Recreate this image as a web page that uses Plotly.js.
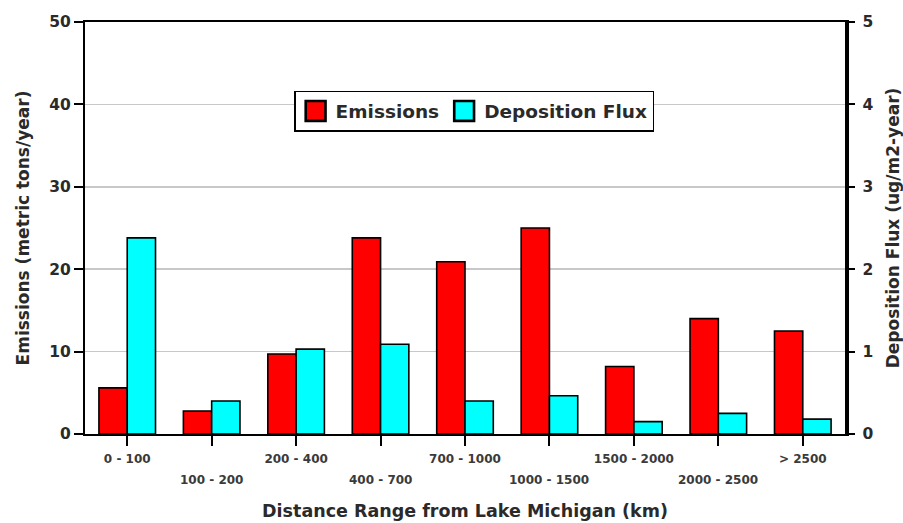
<!DOCTYPE html>
<html>
<head>
<meta charset="utf-8">
<script src="https://cdn.plot.ly/plotly-3.0.1.min.js"></script>
<style>
  html, body { margin: 0; padding: 0; background: #fff; }
  #chart { width: 903px; height: 523px; }
</style>
</head>
<body>
<div id="chart"></div>
<script>
// Distance ranges from Lake Michigan (km)
const ranges = ['0 - 100', '100 - 200', '200 - 400', '400 - 700', '700 - 1000',
                '1000 - 1500', '1500 - 2000', '2000 - 2500', '> 2500'];
// Emissions, metric tons/year
const emissions = [5.6, 2.8, 9.7, 23.8, 20.9, 25.0, 8.2, 14.0, 12.5];
// Deposition flux, ug/m2-year
const deposition = [2.38, 0.40, 1.03, 1.09, 0.40, 0.465, 0.15, 0.25, 0.18];
// Left and right axis tick values
const leftTicks = [0, 10, 20, 30, 40, 50];
const rightTicks = [0, 1, 2, 3, 4, 5];

const idx = ranges.map((_, i) => i);
// Even-numbered ranges label the ticks directly; the others sit on a lower row
const upperText = ranges.map((r, i) => (i % 2 === 0 ? r : ''));
const lowerRow = idx.filter(i => i % 2 === 1);

const FONT = 'DejaVu Sans, Verdana, sans-serif';
const TEXT = '#2a2a2a';
const barLine = { color: '#000', width: 1.6 };

const traces = [
  {
    type: 'bar', name: 'Emissions', x: idx, y: emissions,
    width: 0.335, offset: -0.335,
    marker: { color: '#ff0000', line: barLine },
    yaxis: 'y'
  },
  {
    type: 'bar', name: 'Deposition Flux', x: idx, y: deposition,
    width: 0.335, offset: 0,
    marker: { color: '#00ffff', line: barLine },
    yaxis: 'y2'
  }
];

const annotations = lowerRow.map(i => ({
  x: i, y: 0, xref: 'x', yref: 'y',
  text: ranges[i], showarrow: false,
  xanchor: 'center', yanchor: 'top', yshift: -37,
  font: { family: FONT, size: 12, weight: 'bold', color: '#3a3a3a' }
}));

const layout = {
  width: 903, height: 523,
  margin: { l: 85, r: 58, t: 22, b: 89 },
  paper_bgcolor: '#fff', plot_bgcolor: '#fff',
  font: { family: FONT, color: TEXT },
  showlegend: true,
  legend: {
    orientation: 'h', x: 0.512, xanchor: 'center', y: 0.783, yanchor: 'middle',
    bgcolor: '#fff', bordercolor: '#000', borderwidth: 1.5,
    font: { family: FONT, size: 18.5, weight: 'bold', color: TEXT },
    traceorder: 'normal'
  },
  annotations: annotations,
  xaxis: {
    range: [-0.5, 8.5], tickmode: 'array', tickvals: idx, ticktext: upperText,
    showline: true, linecolor: '#000', linewidth: 2, mirror: true,
    ticks: 'outside', ticklen: 10, tickwidth: 2, tickcolor: '#000',
    ticklabelstandoff: 3,
    showgrid: false, zeroline: false,
    tickfont: { family: FONT, size: 12, weight: 'bold', color: '#3a3a3a' },
    title: { text: 'Distance Range from Lake Michigan (km)', standoff: 39,
             font: { family: FONT, size: 17.5, weight: 'bold', color: TEXT } }
  },
  yaxis: {
    range: [0, 50], tickmode: 'array', tickvals: leftTicks,
    showline: true, linecolor: '#000', linewidth: 2,
    ticks: 'outside', ticklen: 9, tickwidth: 2, tickcolor: '#000',
    showgrid: true, gridcolor: '#c8c8c8', gridwidth: 1.5, zeroline: false,
    tickfont: { family: FONT, size: 15.5, weight: 'bold', color: TEXT },
    title: { text: 'Emissions (metric tons/year)', standoff: 15,
             font: { family: FONT, size: 17, weight: 'bold', color: TEXT } }
  },
  yaxis2: {
    range: [0, 5], tickmode: 'array', tickvals: rightTicks,
    overlaying: 'y', side: 'right',
    showline: true, linecolor: '#000', linewidth: 3.5,
    ticks: 'outside', ticklen: 6, tickwidth: 2, tickcolor: '#000',
    ticklabelstandoff: 5,
    showgrid: false, zeroline: false,
    tickfont: { family: FONT, size: 15.5, weight: 'bold', color: TEXT },
    title: { text: 'Deposition Flux (ug/m2-year)', standoff: 16,
             font: { family: FONT, size: 17, weight: 'bold', color: TEXT } }
  }
};

Plotly.newPlot('chart', traces, layout, { displayModeBar: false, staticPlot: true })
  .then(gd => {
    // Larger legend swatches, kept on their own centres
    gd.querySelectorAll('.legend .legendpoints path').forEach(p => {
      const t = p.getAttribute('transform') || '';
      p.setAttribute('transform', t + ' scale(1.65)');
    });
  });
</script>
</body>
</html>
